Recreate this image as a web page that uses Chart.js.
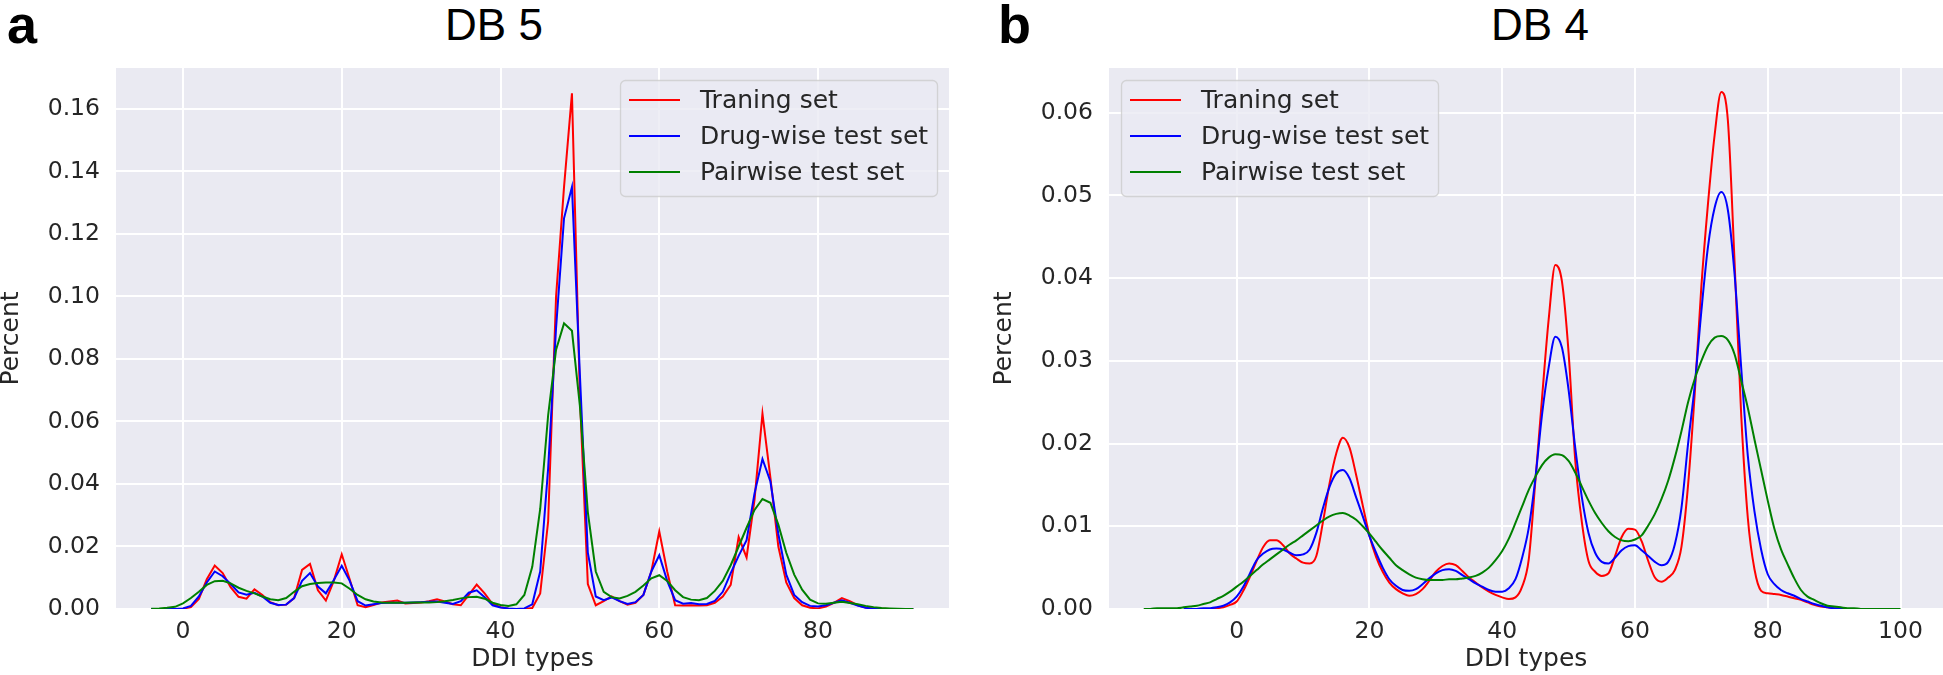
<!DOCTYPE html>
<html>
<head>
<meta charset="utf-8">
<script src="https://cdn.jsdelivr.net/npm/chart.js@4"></script>
<style>
  html, body { margin: 0; padding: 0; background: #fff; }
  body { width: 1943px; height: 675px; position: relative; overflow: hidden; }
  canvas { position: absolute; top: 0; }
  #chartA { left: 0; }
  #chartB { left: 993px; }
  .title { position: absolute; top: 3px; width: 200px; text-align: center;
           font-family: "Liberation Sans", Arial, sans-serif; font-size: 44px; line-height: 44px; color: #000; }
  .panel { position: absolute; top: -3px;
           font-family: "Liberation Sans", Arial, sans-serif; font-weight: bold; font-size: 54px; line-height: 54px; color: #000; }
</style>
</head>
<body>
<div class="panel" style="left:7px">a</div>
<div class="title" style="left:394px">DB 5</div>
<div class="panel" style="left:998px">b</div>
<div class="title" style="left:1440px">DB 4</div>
<canvas id="chartA" width="960" height="675"></canvas>
<canvas id="chartB" width="950" height="675"></canvas>
<script>
// Series names / colours (shared by both panels)
const seriesNames = ['Traning set', 'Drug-wise test set', 'Pairwise test set'];
const seriesColors = ['#ff0000', '#0000ff', '#008000'];

// --- DB 5 (panel a) ---
const db5Types = [-4,-3,-2,-1,0,1,2,3,4,5,6,7,8,9,10,11,12,13,14,15,16,17,18,19,20,21,22,23,24,25,
  26,27,28,29,30,31,32,33,34,35,36,37,38,39,40,41,42,43,44,45,46,47,48,49,50,51,52,53,54,55,
  56,57,58,59,60,61,62,63,64,65,66,67,68,69,70,71,72,73,74,75,76,77,78,79,80,81,82,83,84,85,
  86,87,88,89,90,91,92];
const db5Train = [0,0,0,0,
  0.0001,0.0006,0.0032,0.0095,0.0139,0.0115,0.007,0.0039,0.0033,0.0063,
  0.0045,0.0022,0.0012,0.0014,0.0035,0.0125,0.0144,0.006,0.0027,0.009,
  0.0175,0.0095,0.0012,0.0006,0.0013,0.0021,0.0024,0.0027,0.0018,0.0019,
  0.0021,0.0025,0.0031,0.0024,0.0015,0.0012,0.0045,0.0078,0.005,0.0016,
  0.0006,0.0001,0,0,0.0003,0.005,0.028,0.1,0.135,0.165,
  0.068,0.008,0.0012,0.0025,0.004,0.0025,0.0014,0.002,0.0045,0.012,
  0.0248,0.012,0.0012,0.0011,0.0012,0.0011,0.0012,0.002,0.004,0.0077,
  0.023,0.0165,0.035,0.0625,0.042,0.02,0.0085,0.0035,0.0012,0.0004,
  0.0002,0.0008,0.002,0.0035,0.0025,0.0012,0.0005,0.0002,0.0001,0,
  0,0,0];
const db5Drug = [0,0,0,0,
  0.0002,0.001,0.004,0.0085,0.012,0.0105,0.008,0.0053,0.0046,0.0052,
  0.004,0.002,0.0013,0.0014,0.0035,0.009,0.0115,0.0072,0.005,0.0093,
  0.0138,0.009,0.0025,0.0011,0.0015,0.0019,0.002,0.002,0.002,0.0021,
  0.0022,0.0023,0.0024,0.002,0.0016,0.0025,0.0052,0.006,0.0038,0.0012,
  0.0005,0.0002,0,0.0002,0.0015,0.012,0.045,0.09,0.125,0.135,
  0.075,0.018,0.004,0.0028,0.0037,0.0025,0.0016,0.0022,0.0045,0.012,
  0.0172,0.009,0.0028,0.0017,0.0019,0.0015,0.0016,0.0026,0.0055,0.0115,
  0.017,0.022,0.037,0.048,0.0408,0.024,0.011,0.0045,0.0022,0.001,
  0.0008,0.0012,0.002,0.0028,0.002,0.0011,0.0004,0.0001,0,0,
  0,0,0];
const db5Pair = [0.0001,0.0002,0.0004,0.0007,
  0.0018,0.0035,0.0055,0.0077,0.0089,0.009,0.0082,0.0068,0.0058,0.005,
  0.004,0.0031,0.0028,0.0035,0.0055,0.0073,0.008,0.0083,0.0085,0.0085,
  0.0082,0.0065,0.0045,0.0031,0.0024,0.0021,0.002,0.002,0.002,0.0021,
  0.0021,0.0021,0.0022,0.0025,0.0029,0.0034,0.0038,0.0039,0.0033,0.002,
  0.0013,0.001,0.0015,0.0045,0.0135,0.032,0.062,0.083,0.0914,0.089,
  0.065,0.031,0.012,0.0055,0.0038,0.0034,0.0042,0.0055,0.0075,0.0098,
  0.0108,0.009,0.006,0.0038,0.003,0.0028,0.0035,0.0058,0.009,0.014,
  0.02,0.026,0.0317,0.0352,0.034,0.027,0.018,0.011,0.0062,0.003,
  0.0018,0.0017,0.002,0.0023,0.0019,0.0015,0.001,0.0006,0.0003,0.0002,
  0.0001,0,0];
const db5XTicks = [0, 20, 40, 60, 80];
const db5YTicks = [0, 0.02, 0.04, 0.06, 0.08, 0.10, 0.12, 0.14, 0.16];

// --- DB 4 (panel b) ---
const db4Types = [-14,-13,-12,-11,-10,-9,-8,-7,-6,-5,-4,-3,-2,-1,0,1,2,3,4,5,6,7,8,9,10,11,12,13,14,15,
  16,17,18,19,20,21,22,23,24,25,26,27,28,29,30,31,32,33,34,35,36,37,38,39,40,41,42,43,44,45,
  46,47,48,49,50,51,52,53,54,55,56,57,58,59,60,61,62,63,64,65,66,67,68,69,70,71,72,73,74,75,
  76,77,78,79,80,81,82,83,84,85,86,87,88,89,90,91,92,93,94,95,96,97,98,99,100,101];
const db4Train = [null,null,null,null,null,null,null,null,null,
  0,0,0.0001,0.0002,0.0005,
  0.0009,0.0022,0.0039,0.0058,0.0075,0.0083,0.0083,0.0077,0.0067,0.0061,
  0.0056,0.0055,0.0064,0.0105,0.0152,0.0188,0.0207,0.0195,0.0162,0.0125,
  0.0089,0.0063,0.0045,0.0032,0.0024,0.0019,0.0016,0.0018,0.0024,0.0034,
  0.0045,0.0052,0.0055,0.0053,0.0046,0.0038,0.0032,0.0026,0.0021,0.0017,
  0.0014,0.0012,0.0014,0.0027,0.006,0.0155,0.0255,0.035,0.0416,0.0396,
  0.031,0.018,0.0105,0.0058,0.0045,0.004,0.0043,0.0064,0.0087,0.0097,
  0.0096,0.0082,0.0058,0.0038,0.0033,0.0038,0.0047,0.0075,0.015,0.026,
  0.039,0.049,0.0573,0.0625,0.059,0.042,0.0235,0.011,0.0048,0.0022,
  0.0019,0.0018,0.0017,0.0015,0.0013,0.0011,0.0008,0.0005,0.0003,0.0002,
  0.0001,0,0,
  null,null,null,null,null,null,null,null,null];
const db4Drug = [null,null,null,null,null,null,
  0,0,0,0.0001,0.0001,0.0002,0.0004,0.0008,
  0.0015,0.0027,0.0043,0.0059,0.0067,0.0072,0.0073,0.0072,0.0068,0.0065,
  0.0066,0.0072,0.0092,0.0122,0.0148,0.0164,0.0168,0.0158,0.0135,0.0112,
  0.0088,0.0068,0.005,0.0036,0.0028,0.0023,0.0022,0.0024,0.003,0.0037,
  0.0043,0.0047,0.0048,0.0046,0.0041,0.0036,0.0031,0.0027,0.0023,0.0021,
  0.0021,0.0025,0.0036,0.0062,0.0098,0.0158,0.0235,0.0292,0.0329,0.0316,
  0.0265,0.0195,0.0135,0.0092,0.0068,0.0057,0.0055,0.0062,0.0071,0.0076,
  0.0077,0.0071,0.0064,0.0057,0.0053,0.0057,0.0078,0.0122,0.02,0.027,
  0.036,0.0438,0.0485,0.0504,0.0482,0.0405,0.0292,0.0185,0.0118,0.0072,
  0.0042,0.003,0.0023,0.0019,0.0016,0.0012,0.0009,0.0006,0.0004,0.0002,
  0.0001,0.0001,0,0,0,
  null,null,null,null,null,null,null];
const db4Pair = [0,0,0.0001,0.0001,0.0001,0.0001,0.0002,0.0003,0.0004,0.0006,0.0008,0.0012,0.0016,0.0021,
  0.0027,0.0033,0.004,0.0047,0.0054,0.006,0.0066,0.0072,0.0078,0.0083,
  0.0089,0.0095,0.0101,0.0107,0.0112,0.0115,0.0116,0.0113,0.0108,0.01,
  0.0091,0.0081,0.0071,0.0062,0.0053,0.0047,0.0042,0.0038,0.0036,0.0035,
  0.0035,0.0035,0.0036,0.0036,0.0037,0.0038,0.004,0.0044,0.005,0.0059,
  0.007,0.0085,0.0104,0.0124,0.0144,0.016,0.0174,0.0183,0.0187,0.0186,
  0.0179,0.0165,0.0148,0.0131,0.0116,0.0104,0.0094,0.0087,0.0083,0.0082,
  0.0084,0.0089,0.0101,0.0115,0.0133,0.0155,0.0183,0.0215,0.0250,0.0278,
  0.03,0.0318,0.0328,0.033,0.0325,0.0308,0.0276,0.0243,0.0205,0.0168,
  0.0131,0.0097,0.0072,0.0054,0.0037,0.0023,0.0015,0.0011,0.0007,0.0004,
  0.0003,0.0002,0.0001,0.0001,0,0,0,0,0,0,0,
  null];
const db4XTicks = [0, 20, 40, 60, 80, 100];
const db4YTicks = [0, 0.01, 0.02, 0.03, 0.04, 0.05, 0.06];

const textColor = '#262626';
Chart.defaults.font.family = '"DejaVu Sans", sans-serif';

function toPoints(xs, ys) {
    const pts = [];
    xs.forEach((x, i) => { if (ys[i] !== null) pts.push({ x: x, y: ys[i] }); });
    return pts;
}

// grey plot background (seaborn darkgrid look)
const plotBg = {
    id: 'plotBg',
    beforeDraw(chart) {
        const { ctx, chartArea: a } = chart;
        ctx.save();
        ctx.fillStyle = '#eaeaf2';
        ctx.fillRect(a.left, a.top, a.right - a.left, a.bottom - a.top);
        ctx.restore();
    }
};

// framed legend inside the plot area
const boxLegend = {
    id: 'boxLegend',
    afterDatasetsDraw(chart, args, opts) {
        const { ctx, chartArea: a } = chart;
        const w = 317, h = 116;
        const x0 = opts.side === 'right' ? a.right - 12 - w : a.left + 12;
        const y0 = a.top + 12;
        ctx.save();
        ctx.beginPath();
        ctx.roundRect(x0 + 0.5, y0 + 0.5, w, h, 5);
        ctx.fillStyle = 'rgba(234,234,242,0.8)';
        ctx.fill();
        ctx.strokeStyle = 'rgba(204,204,204,0.8)';
        ctx.lineWidth = 1.3;
        ctx.stroke();
        ctx.font = '25px "DejaVu Sans"';
        ctx.textBaseline = 'alphabetic';
        chart.data.datasets.forEach((ds, i) => {
            const y = y0 + 20 + i * 36;
            ctx.strokeStyle = ds.borderColor;
            ctx.lineWidth = 2;
            ctx.beginPath();
            ctx.moveTo(x0 + 9, y);
            ctx.lineTo(x0 + 60, y);
            ctx.stroke();
            ctx.fillStyle = textColor;
            ctx.fillText(ds.label, x0 + 80, y + 7.5);
        });
        ctx.restore();
    }
};

function buildChart(id, xs, series, cfg) {
    return new Chart(document.getElementById(id), {
        type: 'line',
        data: {
            datasets: series.map((ys, i) => ({
                label: seriesNames[i],
                data: toPoints(xs, ys),
                borderColor: seriesColors[i],
                borderWidth: 2,
                pointRadius: 0,
                fill: false,
                tension: 0,
                cubicInterpolationMode: cfg.smooth ? 'monotone' : 'default',
                order: 3 - i  // green drawn last, on top
            }))
        },
        options: {
            responsive: false,
            animation: false,
            devicePixelRatio: 1,
            layout: { padding: { top: 68, right: cfg.padRight, bottom: 0, left: 0 } },
            plugins: {
                legend: { display: false },
                tooltip: { enabled: false },
                boxLegend: { side: cfg.legendSide }
            },
            scales: {
                x: {
                    type: 'linear',
                    min: cfg.xMin,
                    max: cfg.xMax,
                    afterBuildTicks: s => { s.ticks = cfg.xTicks.map(v => ({ value: v })); },
                    afterFit: s => { s.height = 66; },
                    border: { display: false },
                    grid: { color: '#ffffff', lineWidth: 2, drawTicks: false },
                    ticks: {
                        padding: 9, maxRotation: 0, autoSkip: false, color: textColor,
                        font: { size: 23.5 },
                        callback: v => String(v)
                    },
                    title: {
                        display: true, text: 'DDI types', color: textColor,
                        font: { size: 25, lineHeight: 1 },
                        padding: { top: 0, bottom: 3 }
                    }
                },
                y: {
                    min: 0,
                    max: cfg.yMax,
                    afterBuildTicks: s => { s.ticks = cfg.yTicks.map(v => ({ value: v })); },
                    afterFit: s => { s.width = 116; },
                    border: { display: false },
                    grid: { color: '#ffffff', lineWidth: 2, drawTicks: false },
                    ticks: {
                        padding: 16, color: textColor,
                        font: { size: 23.5 },
                        callback: v => v.toFixed(2)
                    },
                    title: {
                        display: true, text: 'Percent', color: textColor,
                        font: { size: 25, lineHeight: 0.92 },
                        padding: 0
                    }
                }
            }
        },
        plugins: [plotBg, boxLegend]
    });
}

buildChart('chartA', db5Types, [db5Train, db5Drug, db5Pair], {
    xMin: -8.44, xMax: 96.5, yMax: 0.1731,
    xTicks: db5XTicks, yTicks: db5YTicks,
    padRight: 11, legendSide: 'right', smooth: false
});

buildChart('chartB', db4Types, [db4Train, db4Drug, db4Pair], {
    xMin: -19.23, xMax: 106.4, yMax: 0.0654,
    xTicks: db4XTicks, yTicks: db4YTicks,
    padRight: 0, legendSide: 'left', smooth: true
});
</script>
</body>
</html>
